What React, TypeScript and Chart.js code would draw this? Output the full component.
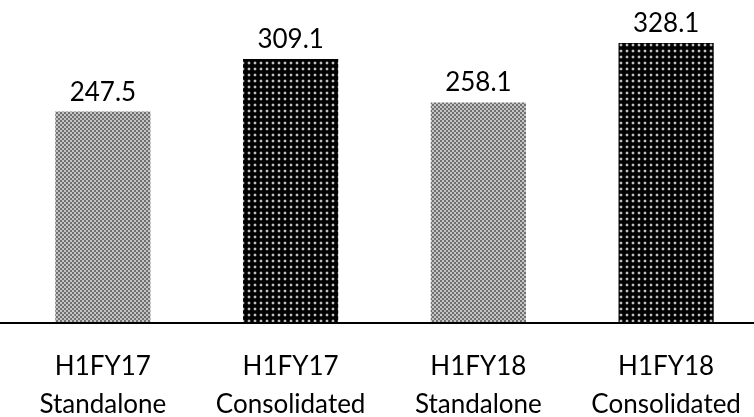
import React, { useEffect, useRef } from "react";
import { Chart, registerables } from "chart.js";

Chart.register(...registerables);

const categories: string[][] = [
  ["H1FY17", "Standalone"],
  ["H1FY17", "Consolidated"],
  ["H1FY18", "Standalone"],
  ["H1FY18", "Consolidated"],
];
const values: number[] = [247.5, 309.1, 258.1, 328.1];
const kinds: string[] = ["light", "dark", "light", "dark"];

const TICK_FONT = "Lato, 'Open Sans', sans-serif";
const VALUE_FONT = "Lato, 'Open Sans', sans-serif";

function makeLight(): CanvasPattern | string {
  const c = document.createElement("canvas");
  c.width = 4;
  c.height = 4;
  const g = c.getContext("2d");
  if (!g) return "#999";
  g.fillStyle = "#c4c4c4";
  g.fillRect(0, 0, 4, 4);
  g.fillStyle = "#707070";
  g.fillRect(0, 0, 2, 2);
  g.fillRect(2, 2, 2, 2);
  return g.createPattern(c, "repeat") || "#999";
}

function makeDark(): CanvasPattern | string {
  const c = document.createElement("canvas");
  c.width = 6;
  c.height = 6;
  const g = c.getContext("2d");
  if (!g) return "#111";
  g.fillStyle = "#000";
  g.fillRect(0, 0, 6, 6);
  const rg = g.createRadialGradient(3, 3, 0, 3, 3, 2.2);
  rg.addColorStop(0, "rgba(255,255,255,1)");
  rg.addColorStop(0.5, "rgba(200,200,200,0.8)");
  rg.addColorStop(1, "rgba(0,0,0,0)");
  g.fillStyle = rg;
  g.fillRect(0, 0, 6, 6);
  return g.createPattern(c, "repeat") || "#111";
}

export default function App() {
  const ref = useRef<HTMLCanvasElement | null>(null);

  useEffect(() => {
    if (!ref.current) return;
    const light = makeLight();
    const dark = makeDark();
    const colors = kinds.map((k) => (k === "light" ? light : dark));

    const overlay = {
      id: "overlay",
      afterDatasetsDraw(chart: any) {
        const ctx = chart.ctx;
        const meta = chart.getDatasetMeta(0);
        ctx.save();
        ctx.fillStyle = "#000";
        ctx.font = `26px ${VALUE_FONT}`;
        ctx.textAlign = "center";
        ctx.textBaseline = "alphabetic";
        meta.data.forEach((bar: any, i: number) => {
          ctx.fillText(values[i].toFixed(1), bar.x, bar.y - 11);
        });
        const y0 = Math.round(chart.scales.y.getPixelForValue(0));
        ctx.fillStyle = "#000";
        ctx.fillRect(0, y0, chart.width, 2);
        ctx.restore();
      },
    };

    const chart = new Chart(ref.current, {
      type: "bar",
      data: {
        labels: categories,
        datasets: [
          {
            data: values,
            backgroundColor: colors as any,
            borderWidth: 0,
            categoryPercentage: 1,
            barPercentage: 0.507,
          },
        ],
      },
      options: {
        animation: false,
        responsive: false,
        layout: { autoPadding: false, padding: { left: 9, right: 0, top: 0, bottom: 0 } },
        plugins: {
          legend: { display: false },
          tooltip: { enabled: false },
        },
        scales: {
          x: {
            grid: { display: false },
            border: { display: false },
            ticks: {
              color: "#000",
              font: { family: TICK_FONT, size: 26, lineHeight: 1.46 },
              padding: 18,
              maxRotation: 0,
              autoSkip: false,
            },
            afterFit: (scale: any) => {
              scale.height = 95;
            },
          },
          y: {
            display: false,
            min: 0,
            max: 378.6,
          },
        },
      },
      plugins: [overlay],
    });
    return () => chart.destroy();
  }, []);

  return (
    <div
      style={{
        position: "fixed",
        left: 0,
        top: 0,
        width: 754,
        height: 417,
        overflow: "hidden",
        background: "#fff",
      }}
    >
      <canvas ref={ref} width={760} height={417} style={{ display: "block" }} />
    </div>
  );
}
